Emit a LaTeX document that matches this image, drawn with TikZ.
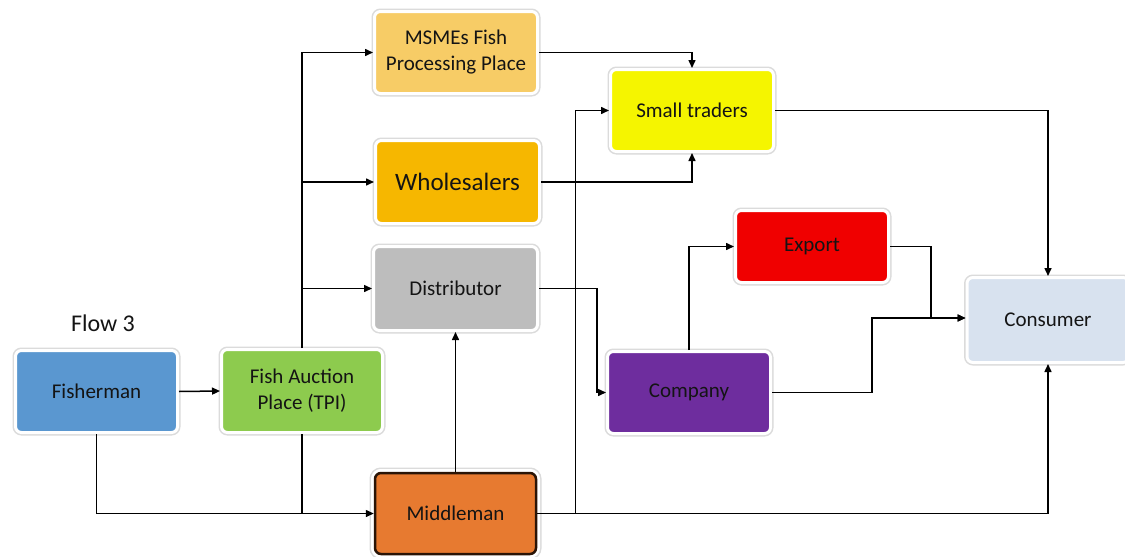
\documentclass[tikz,border=0pt]{standalone}
\usepackage{fontspec}
\setmainfont{Carlito}
\usetikzlibrary{arrows.meta,shadows,calc}
\definecolor{cFish}{HTML}{5A97D0}
\definecolor{cTPI}{HTML}{8DCB4E}
\definecolor{cMSME}{HTML}{F7CC66}
\definecolor{cWhole}{HTML}{F6B700}
\definecolor{cDist}{HTML}{BDBDBD}
\definecolor{cMid}{HTML}{E77A30}
\definecolor{cSmall}{HTML}{F5F500}
\definecolor{cExp}{HTML}{F00000}
\definecolor{cComp}{HTML}{6E2D9E}
\definecolor{cCons}{HTML}{D8E2EF}
\definecolor{cTxt}{HTML}{141414}
\definecolor{cMidB}{HTML}{2A1406}
\tikzset{
  box/.style={rectangle, rounded corners=6pt, draw=white, line width=3pt,
    text=cTxt, align=center, inner sep=2pt,
    font=\fontsize{21}{26}\selectfont,
    preaction={draw=black!14, line width=6pt}},
  arr/.style={line width=1.5pt, -{Triangle[length=8pt,width=7pt]}},
  ln/.style={line width=1.5pt},
}
\begin{document}
\begin{tikzpicture}[x=1pt,y=-1pt]
\useasboundingbox (0,0) rectangle (1125,557);
\fill[white] (0,0) rectangle (1125,557);
% nodes
\node[box, fill=cFish, minimum width=162pt, minimum height=82pt] (fish) at (96.5,391.5) {Fisherman};
\node[box, fill=cTPI, minimum width=161pt, minimum height=83pt] (tpi) at (302,391) {Fish Auction\\Place (TPI)};
\node[box, fill=cMSME, minimum width=163pt, minimum height=82pt] (msme) at (456,52.5) {MSMEs Fish\\Processing Place};
\node[box, fill=cWhole, minimum width=164pt, minimum height=83pt, font=\fontsize{25}{30}\selectfont] (whole) at (457.5,182) {Wholesalers};
\node[box, fill=cDist, minimum width=164pt, minimum height=84pt] (dist) at (455.5,288.5) {Distributor};
\node[box, fill=cMid, draw=cMidB, line width=2.5pt, preaction={draw=black!14, line width=11pt}, preaction={draw=white, line width=8pt}, minimum width=161pt, minimum height=81pt] (mid) at (455.5,513.5) {Middleman};
\node[box, fill=cSmall, minimum width=163pt, minimum height=82pt] (small) at (692,110.5) {Small traders};
\node[box, fill=cExp, minimum width=153pt, minimum height=72pt] (exp) at (812,246.5) {Export};
\node[box, fill=cComp, minimum width=163pt, minimum height=82pt] (comp) at (689,392.5) {Company};
\node[box, fill=cCons, minimum width=162pt, minimum height=85pt] (cons) at (1048,320) {Consumer};
\node[text=cTxt, font=\fontsize{24}{28}\selectfont] (flow) at (103,323) {Flow 3};
% connectors
\draw[arr] (fish.east) -- (tpi.west);
\draw[arr] (fish.south) |- (mid.west);
\draw[ln] (tpi.south) -- (tpi.south |- mid.west);
\draw[arr] (tpi.north) |- (msme.west);
\draw[arr] (tpi.north |- whole.west) -- (whole.west);
\draw[arr] (tpi.north |- dist.west) -- (dist.west);
\draw[arr] (msme.east) -| (small.north);
\draw[arr] (whole.east) -| (small.south);
\draw[arr] (dist.east) -- ++(58,0) |- (comp.west);
\draw[arr] (mid.north) -- (dist.south);
\draw[arr] (mid.east) -| (cons.south);
\coordinate (mj) at ($(mid.east)+(38,0)$);
\draw[arr] (mj) |- (small.west);
\draw[arr] (comp.north) |- (exp.west);
\draw[arr] (small.east) -| (cons.north);
\draw[arr] (exp.east) -- ++(41,0) |- ($(cons.west)+(0,-2)$);
\draw[arr] (comp.east) -- ++(100,0) |- ($(cons.west)+(0,-2)$);
\end{tikzpicture}
\end{document}
